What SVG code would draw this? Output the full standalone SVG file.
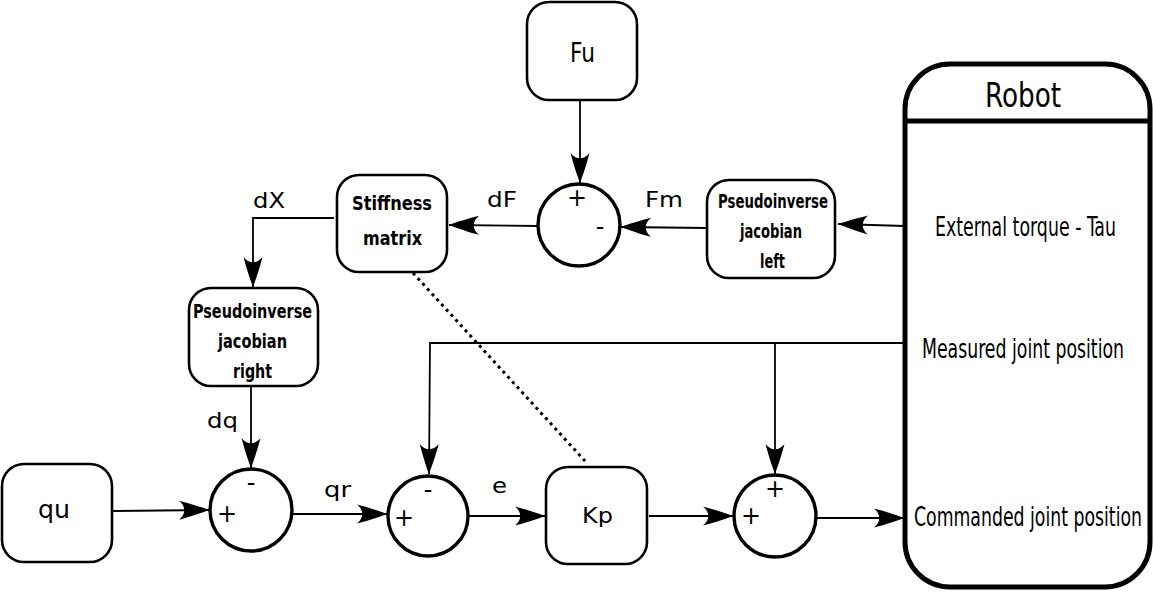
<svg xmlns="http://www.w3.org/2000/svg" width="1153" height="593" viewBox="0 0 1153 593">
<defs>
<style>
.box{fill:#fff;stroke:#000;stroke-width:2.6}
.sum{fill:#fff;stroke:#000;stroke-width:3.4}
.con{fill:none;stroke:#000;stroke-width:1.8}
.lbl{font-family:"DejaVu Sans",sans-serif;font-size:21px;fill:#000}
.sg{font-family:"DejaVu Sans",sans-serif;font-size:24px;fill:#000;text-anchor:middle}
.bold{font-family:"DejaVu Sans Condensed","DejaVu Sans",sans-serif;font-weight:bold;font-size:19px;fill:#000}
.rob{font-family:"DejaVu Sans Condensed","DejaVu Sans",sans-serif;font-size:27px;fill:#000}
</style>
<marker id="ar" markerUnits="userSpaceOnUse" viewBox="-32 -11 34 22" markerWidth="34" markerHeight="22" refX="0" refY="0" orient="auto">
<path d="M0,0 C-8,-3 -20,-7 -30,-9.5 C-23,-4 -23,4 -30,9.5 C-20,7 -8,3 0,0 Z" fill="#000"/>
</marker>
</defs>
<rect width="1153" height="593" fill="#fff"/>

<g id="connectors">
<line class="con" x1="580" y1="100" x2="580" y2="183" marker-end="url(#ar)"/>
<line class="con" x1="707" y1="228" x2="621" y2="227" marker-end="url(#ar)"/>
<line class="con" x1="905" y1="226" x2="838" y2="224" marker-end="url(#ar)"/>
<line class="con" x1="538" y1="226" x2="449" y2="225" marker-end="url(#ar)"/>
<path class="con" d="M334,218 L253,218 L253,287" marker-end="url(#ar)"/>
<line class="con" x1="251" y1="386" x2="251" y2="468" marker-end="url(#ar)"/>
<line class="con" x1="113" y1="511" x2="209" y2="510" marker-end="url(#ar)"/>
<line class="con" x1="293" y1="514" x2="387" y2="514" marker-end="url(#ar)"/>
<line class="con" x1="469" y1="516" x2="545" y2="516" marker-end="url(#ar)"/>
<line class="con" x1="649" y1="516" x2="733" y2="516" marker-end="url(#ar)"/>
<line class="con" x1="817" y1="518" x2="904" y2="518" marker-end="url(#ar)"/>
<path class="con" d="M905,343 L430,343 L429,474" marker-end="url(#ar)"/>
<line class="con" x1="775" y1="343" x2="775" y2="474" marker-end="url(#ar)"/>
<line x1="413" y1="273" x2="585" y2="461" stroke="#000" stroke-width="3" stroke-dasharray="3,4"/>
<text class="lbl" x="253" y="208" textLength="32" lengthAdjust="spacingAndGlyphs">dX</text>
<text class="lbl" x="487" y="207" textLength="30" lengthAdjust="spacingAndGlyphs">dF</text>
<text class="lbl" x="645" y="207" textLength="38" lengthAdjust="spacingAndGlyphs">Fm</text>
<text class="lbl" x="207" y="428" textLength="31" lengthAdjust="spacingAndGlyphs">dq</text>
<text class="lbl" x="324" y="497" textLength="27" lengthAdjust="spacingAndGlyphs">qr</text>
<text class="lbl" x="492" y="493" textLength="15" lengthAdjust="spacingAndGlyphs">e</text>
</g>

<g id="Fu">
<rect class="box" x="527" y="2" width="110" height="98" rx="22"/>
<text class="lbl" x="570" y="61.5" style="font-size:26px" textLength="25" lengthAdjust="spacingAndGlyphs">Fu</text>
</g>

<g id="sumForce">
<circle class="sum" cx="579" cy="225" r="41"/>
<text class="sg" x="577" y="206">+</text>
<text class="sg" x="600" y="235">-</text>
</g>

<g id="stiffness">
<rect class="box" x="337" y="175" width="110" height="97" rx="22"/>
<text class="bold" x="352" y="210" textLength="80" lengthAdjust="spacingAndGlyphs">Stiffness</text>
<text class="bold" x="363" y="245" textLength="59" lengthAdjust="spacingAndGlyphs">matrix</text>
</g>

<g id="jacLeft">
<rect class="box" x="707" y="180" width="128" height="98" rx="22"/>
<text class="bold" x="718" y="208" textLength="110" lengthAdjust="spacingAndGlyphs">Pseudoinverse</text>
<text class="bold" x="740" y="238" textLength="62" lengthAdjust="spacingAndGlyphs">jacobian</text>
<text class="bold" x="760" y="268" textLength="25" lengthAdjust="spacingAndGlyphs">left</text>
</g>

<g id="jacRight">
<rect class="box" x="189" y="288" width="129" height="98" rx="22"/>
<text class="bold" x="193" y="318" textLength="119" lengthAdjust="spacingAndGlyphs">Pseudoinverse</text>
<text class="bold" x="218" y="348" textLength="69" lengthAdjust="spacingAndGlyphs">jacobian</text>
<text class="bold" x="233" y="378" textLength="39" lengthAdjust="spacingAndGlyphs">right</text>
</g>

<g id="qu">
<rect class="box" x="2" y="464" width="110" height="98" rx="22"/>
<text class="lbl" x="38" y="518" style="font-size:25px" textLength="32" lengthAdjust="spacingAndGlyphs">qu</text>
</g>

<g id="sum1">
<circle class="sum" cx="251" cy="510" r="41"/>
<text class="sg" x="251" y="491">-</text>
<text class="sg" x="227" y="522">+</text>
</g>

<g id="sum2">
<circle class="sum" cx="428" cy="516" r="40"/>
<text class="sg" x="428" y="498">-</text>
<text class="sg" x="404" y="526">+</text>
</g>

<g id="Kp">
<rect class="box" x="546" y="467" width="101" height="97" rx="22"/>
<text class="lbl" x="582" y="523" style="font-size:22px" textLength="31" lengthAdjust="spacingAndGlyphs">Kp</text>
</g>

<g id="sum3">
<circle class="sum" cx="775" cy="516" r="41"/>
<text class="sg" x="775" y="497">+</text>
<text class="sg" x="751" y="524">+</text>
</g>

<g id="robot">
<rect x="905" y="64" width="245" height="523" rx="45" fill="#fff" stroke="#000" stroke-width="5"/>
<line x1="905" y1="121" x2="1150" y2="121" stroke="#000" stroke-width="5"/>
<text class="rob" transform="translate(985,107) scale(0.84,1)" style="font-size:34px" textLength="90.5" lengthAdjust="spacingAndGlyphs">Robot</text>
<text class="rob" transform="translate(935,236) scale(0.7,1)" textLength="258.6" lengthAdjust="spacingAndGlyphs">External torque - Tau</text>
<text class="rob" transform="translate(922,358) scale(0.7,1)" textLength="288.6" lengthAdjust="spacingAndGlyphs">Measured joint position</text>
<text class="rob" transform="translate(914,526) scale(0.7,1)" textLength="325.7" lengthAdjust="spacingAndGlyphs">Commanded joint position</text>
</g>
</svg>
